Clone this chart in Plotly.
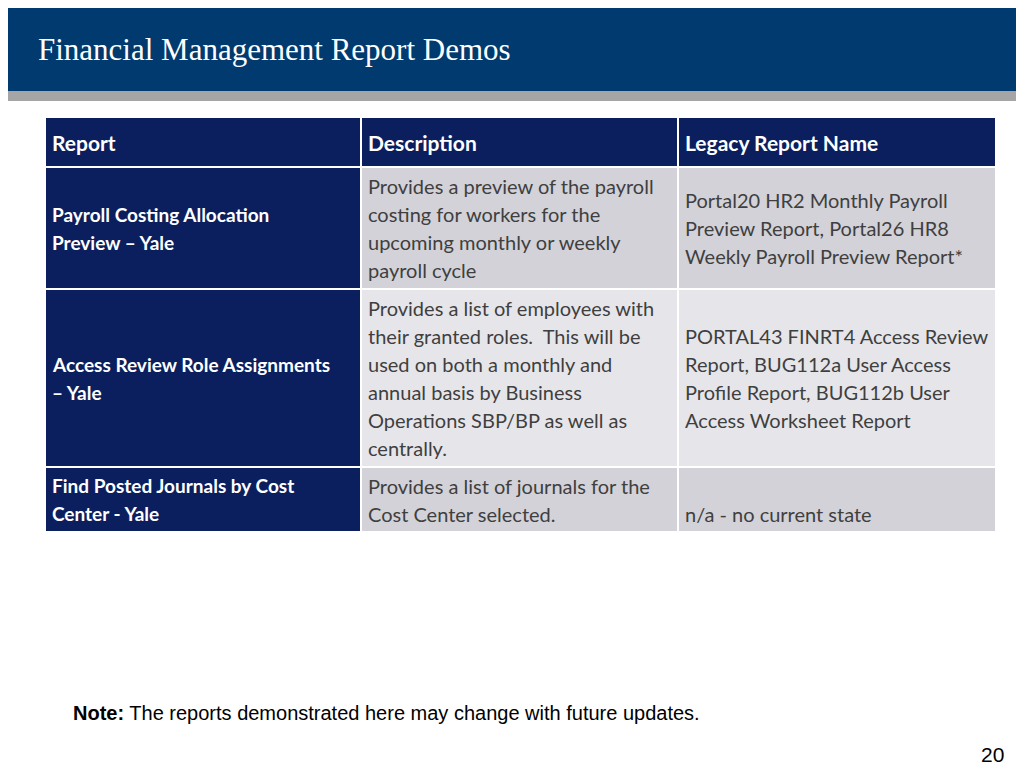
import plotly.graph_objects as go

title = "Financial Management Report Demos"
headers = ["Report", "Description", "Legacy Report Name"]
reports = [
    ["Payroll Costing Allocation", "Preview \u2013 Yale"],
    ["Access Review Role Assignments", "\u2013 Yale"],
    ["Find Posted Journals by Cost", "Center - Yale"],
]
descriptions = [
    ["Provides a preview of the payroll", "costing for workers for the",
     "upcoming monthly or weekly", "payroll cycle"],
    ["Provides a list of employees with", "their granted roles.  This will be",
     "used on both a monthly and", "annual basis by Business",
     "Operations SBP/BP as well as", "centrally."],
    ["Provides a list of journals for the", "Cost Center selected."],
]
legacy = [
    ["Portal20 HR2 Monthly Payroll", "Preview Report, Portal26 HR8",
     "Weekly Payroll Preview Report*"],
    ["PORTAL43 FINRT4 Access Review", "Report, BUG112a User Access",
     "Profile Report, BUG112b User", "Access Worksheet Report"],
    ["", "n/a - no current state"],
]
note_label = "Note:"
note_text = " The reports demonstrated here may change with future updates."
page_no = "20"

# layout constants (pixels)
col_edges = [37, 353, 670, 988]
row_edges = [109, 159, 281, 459, 524]
line_h = 28
navy = "#0b1f5e"
row_fills = ["#d2d2d8", "#e6e6ea", "#d2d2d8"]
font = "Lato"

fig = go.Figure()
shapes = []
ann = []

# banner
shapes.append(dict(type="rect", x0=0, x1=1024, y0=0, y1=83, fillcolor="#003a6e", line_width=0))
shapes.append(dict(type="rect", x0=0, x1=1024, y0=83, y1=93, fillcolor="#a5a5a5", line_width=0))
ann.append(dict(x=28, y=41, text=title, xanchor="left", yanchor="middle", showarrow=False,
                font=dict(family="Liberation Serif", size=31, color="white")))


def cell(c, r, fill):
    shapes.append(dict(type="rect", x0=col_edges[c], x1=col_edges[c + 1],
                       y0=row_edges[r], y1=row_edges[r + 1],
                       fillcolor=fill, line=dict(color="white", width=2)))


def lines(c, r, texts, color, size, bold=False):
    mid = (row_edges[r] + row_edges[r + 1]) / 2
    n = len(texts)
    for i, t in enumerate(texts):
        if not t:
            continue
        y = mid + (i - (n - 1) / 2) * line_h
        ann.append(dict(x=col_edges[c] + 5, y=y, text="<b>%s</b>" % t if bold else t,
                        xanchor="left", yanchor="middle", showarrow=False,
                        font=dict(family=font, size=size, color=color)))


for c, h in enumerate(headers):
    cell(c, 0, navy)
    lines(c, 0, [h], "white", 21, bold=True)

for i in range(len(reports)):
    r = i + 1
    cell(0, r, navy)
    cell(1, r, row_fills[i])
    cell(2, r, row_fills[i])
    lines(0, r, reports[i], "white", 19, bold=True)
    lines(1, r, descriptions[i], "#3f3f3f", 20)
    lines(2, r, legacy[i], "#3f3f3f", 20)

ann.append(dict(x=63, y=705, text="<b>%s</b>%s" % (note_label, note_text), xanchor="left",
                yanchor="middle", showarrow=False,
                font=dict(family="Liberation Sans", size=20, color="black")))
ann.append(dict(x=998, y=746, text=page_no, xanchor="right", yanchor="middle", showarrow=False,
                font=dict(family="Liberation Sans", size=21, color="black")))

fig.update_layout(
    width=1024, height=768, margin=dict(l=0, r=0, t=0, b=0),
    paper_bgcolor="white", plot_bgcolor="white",
    xaxis=dict(range=[0, 1024], visible=False, fixedrange=True),
    yaxis=dict(range=[768, 0], visible=False, fixedrange=True),
    shapes=shapes, annotations=ann, showlegend=False,
)
fig.write_html("out.html")
